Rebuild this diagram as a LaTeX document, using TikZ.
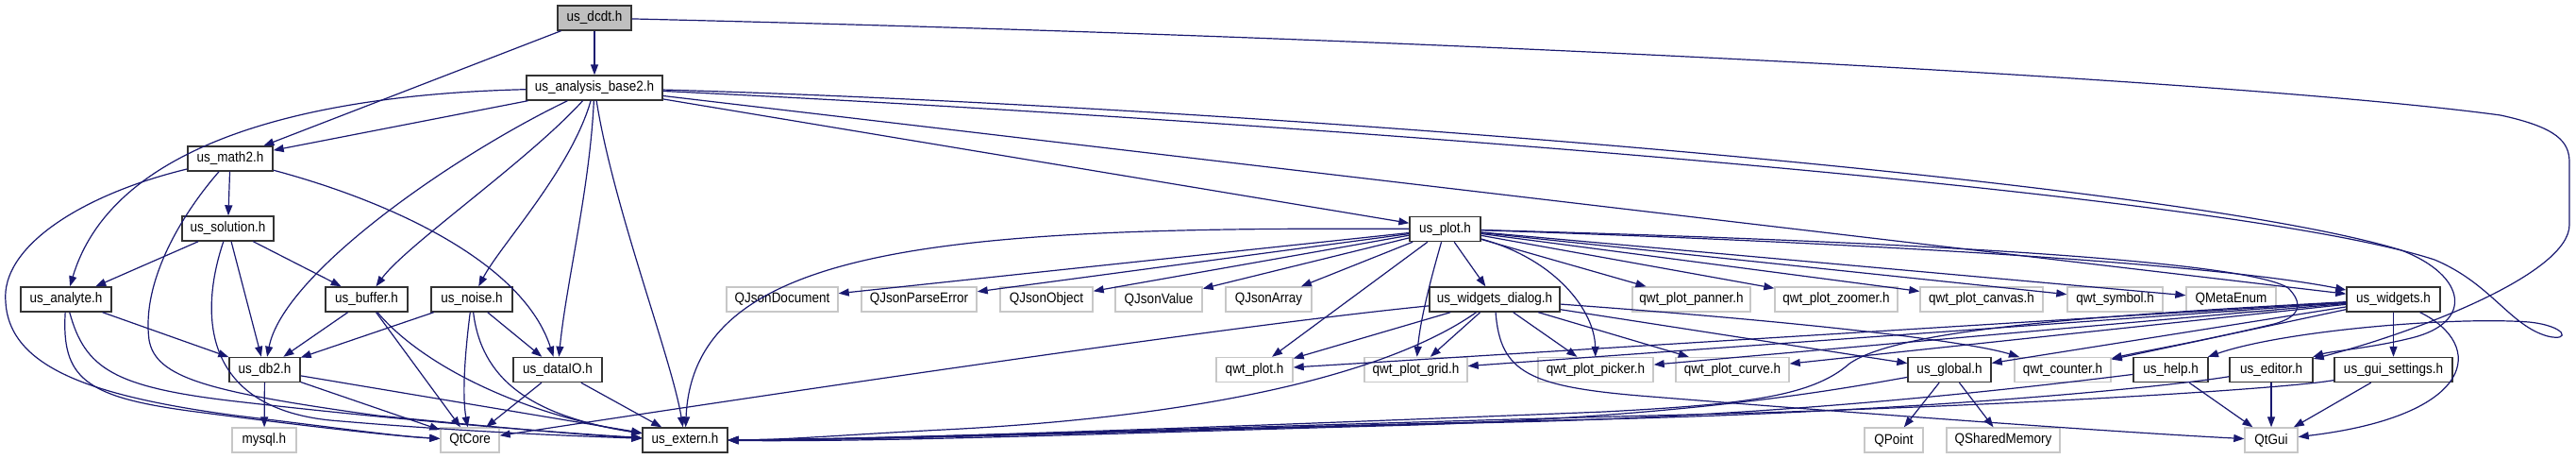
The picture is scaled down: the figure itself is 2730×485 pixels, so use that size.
\documentclass[tikz,border=0pt]{standalone}
\usepackage{fontspec}
\setmainfont{Liberation Sans}[FakeStretch=0.9]
\usepackage{tikz}
\usetikzlibrary{arrows.meta}
\definecolor{edgeblue}{HTML}{191970}
\tikzset{
    hdr/.style={draw=black!80, line width=1.4pt, fill=white, minimum height=26pt, inner sep=0pt, font=\fontsize{15}{16}\selectfont},
    sys/.style={hdr, draw=black!22},
    root/.style={hdr, fill=black!25},
    dep/.style={draw=edgeblue, line width=1.2pt, -{Triangle[length=11pt,width=8pt]}}
}

\begin{document}
\begin{tikzpicture}[x=1pt,y=-1pt]
    \useasboundingbox (0,0) rectangle (2730,485);
    % headers
    \node[root, minimum width=78pt] (dcdt) at (630,19) {us\_dcdt.h};
    \node[hdr, minimum width=144pt] (ab2) at (630,93) {us\_analysis\_base2.h};
    \node[hdr, minimum width=90pt] (math2) at (244,168) {us\_math2.h};
    \node[hdr, minimum width=97pt] (solution) at (241.5,242) {us\_solution.h};
    \node[hdr, minimum width=96pt] (analyte) at (70,317) {us\_analyte.h};
    \node[hdr, minimum width=87pt] (buffer) at (388.5,317) {us\_buffer.h};
    \node[hdr, minimum width=86pt] (noise) at (500,317) {us\_noise.h};
    \node[sys, minimum width=118pt] (qjdoc) at (829,317) {QJsonDocument};
    \node[hdr, minimum width=75pt] (db2) at (280.5,391.5) {us\_db2.h};
    \node[hdr, minimum width=94pt] (dataio) at (591,391.5) {us\_dataIO.h};
    \node[sys, minimum width=68pt] (mysql) at (280,466) {mysql.h};
    \node[sys, minimum width=62pt] (qtcore) at (498,466) {QtCore};
    \node[hdr, minimum width=90pt] (extern) at (726,466) {us\_extern.h};
    \node[hdr, minimum width=75pt] (plot) at (1531.5,242.5) {us\_plot.h};
    \node[sys, minimum width=122pt] (qjparse) at (974,317) {QJsonParseError};
    \node[sys, minimum width=98pt] (qjobj) at (1109,317) {QJsonObject};
    \node[sys, minimum width=92pt] (qjval) at (1228,317) {QJsonValue};
    \node[sys, minimum width=91pt] (qjarr) at (1344.5,317) {QJsonArray};
    \node[hdr, minimum width=138pt] (wdialog) at (1584,317) {us\_widgets\_dialog.h};
    \node[sys, minimum width=125pt] (panner) at (1792.5,317) {qwt\_plot\_panner.h};
    \node[sys, minimum width=130pt] (zoomer) at (1946,317) {qwt\_plot\_zoomer.h};
    \node[sys, minimum width=130pt] (canvas) at (2100,317) {qwt\_plot\_canvas.h};
    \node[sys, minimum width=101pt] (symbol) at (2241.5,317) {qwt\_symbol.h};
    \node[sys, minimum width=95pt] (metaenum) at (2364.5,317) {QMetaEnum};
    \node[hdr, minimum width=99pt] (widgets) at (2536.5,317) {us\_widgets.h};
    \node[sys, minimum width=81pt] (qwtplot) at (1329.5,391.5) {qwt\_plot.h};
    \node[sys, minimum width=109pt] (grid) at (1500.5,391.5) {qwt\_plot\_grid.h};
    \node[sys, minimum width=122pt] (picker) at (1691,391.5) {qwt\_plot\_picker.h};
    \node[sys, minimum width=120pt] (curve) at (1836,391.5) {qwt\_plot\_curve.h};
    \node[hdr, minimum width=88pt] (global) at (2066,391.5) {us\_global.h};
    \node[sys, minimum width=102pt] (counter) at (2186,391.5) {qwt\_counter.h};
    \node[hdr, minimum width=79pt] (help) at (2300.5,391.5) {us\_help.h};
    \node[hdr, minimum width=88pt] (editor) at (2407,391.5) {us\_editor.h};
    \node[hdr, minimum width=125pt] (guiset) at (2536.5,391.5) {us\_gui\_settings.h};
    \node[sys, minimum width=62pt] (qpoint) at (2007,466) {QPoint};
    \node[sys, minimum width=120pt] (qshm) at (2123,466) {QSharedMemory};
    \node[sys, minimum width=56pt] (qtgui) at (2407,466) {QtGui};

    % us_dcdt.h
    \draw[dep] (dcdt) -- (ab2);
    \draw[dep] (dcdt) -- (math2);
    \draw[dep] (dcdt) .. controls (1600,42) and (2400,88) .. (2650,122) .. controls (2710,135) and (2723,150) .. (2723,172) -- (2723,238) .. controls (2723,290) and (2560,352) .. (editor);

    % us_analysis_base2.h
    \draw[dep] (ab2) -- (math2);
    \draw[dep] (ab2) .. controls (330,100) and (120,150) .. (analyte);
    \draw[dep] (ab2) .. controls (480,165) and (300,290) .. (db2);
    \draw[dep] (ab2) .. controls (560,170) and (430,260) .. (buffer);
    \draw[dep] (ab2) .. controls (605,180) and (530,260) .. (noise);
    \draw[dep] (ab2) .. controls (625,200) and (600,300) .. (dataio);
    \draw[dep] (ab2) .. controls (650,220) and (712,380) .. (extern);
    \draw[dep] (ab2) -- (plot);
    \draw[dep] (ab2) -- (widgets);
    \draw[dep] (ab2) .. controls (1300,112) and (2300,190) .. (2545,265) .. controls (2615,292) and (2622,342) .. (2555,358) .. controls (2515,368) and (2470,372) .. (editor);
    \draw[dep] (ab2) .. controls (1300,125) and (2350,200) .. (2580,275) .. controls (2640,300) and (2660,345) .. (2700,356) .. controls (2725,362) and (2720,345) .. (2680,341) .. controls (2600,335) and (2420,350) .. (help);

    % us_math2.h
    \draw[dep] (math2) -- (solution);
    \draw[dep] (math2) .. controls (90,205) and (0,260) .. (6,320) .. controls (10,390) and (100,420) .. (250,440) .. controls (350,452) and (420,462) .. (qtcore);
    \draw[dep] (math2) .. controls (190,230) and (150,300) .. (158,360) .. controls (165,400) and (220,415) .. (400,440) .. controls (550,455) and (640,462) .. (extern);
    \draw[dep] (math2) .. controls (420,215) and (555,280) .. (dataio);

    % us_solution.h
    \draw[dep] (solution) -- (analyte);
    \draw[dep] (solution) -- (buffer);
    \draw[dep] (solution) -- (db2);
    \draw[dep] (solution) .. controls (215,320) and (205,430) .. (350,445) .. controls (500,458) and (620,462) .. (extern);

    % us_analyte.h, us_buffer.h, us_noise.h
    \draw[dep] (analyte) -- (db2);
    \draw[dep] (analyte) .. controls (65,400) and (90,420) .. (200,435) .. controls (330,452) and (420,462) .. (qtcore);
    \draw[dep] (analyte) .. controls (90,390) and (120,410) .. (250,425) .. controls (450,448) and (620,460) .. (extern);
    \draw[dep] (buffer) -- (db2);
    \draw[dep] (buffer) -- (qtcore);
    \draw[dep] (buffer) .. controls (450,390) and (560,440) .. (extern);
    \draw[dep] (noise) -- (db2);
    \draw[dep] (noise) -- (dataio);
    \draw[dep] (noise) .. controls (492,380) and (490,420) .. (qtcore);
    \draw[dep] (noise) .. controls (510,400) and (560,440) .. (extern);

    % us_db2.h, us_dataIO.h
    \draw[dep] (db2) -- (mysql);
    \draw[dep] (db2) -- (qtcore);
    \draw[dep] (db2) -- (extern);
    \draw[dep] (dataio) -- (qtcore);
    \draw[dep] (dataio) -- (extern);

    % us_plot.h
    \draw[dep] (plot) -- (qjdoc);
    \draw[dep] (plot) -- (qjparse);
    \draw[dep] (plot) -- (qjobj);
    \draw[dep] (plot) -- (qjval);
    \draw[dep] (plot) -- (qjarr);
    \draw[dep] (plot) .. controls (1000,240) and (735,260) .. (extern);
    \draw[dep] (plot) -- (qwtplot);
    \draw[dep] (plot) .. controls (1515,300) and (1505,340) .. (grid);
    \draw[dep] (plot) -- (wdialog);
    \draw[dep] (plot) .. controls (1650,275) and (1690,330) .. (picker);
    \draw[dep] (plot) -- (panner);
    \draw[dep] (plot) -- (zoomer);
    \draw[dep] (plot) -- (canvas);
    \draw[dep] (plot) -- (symbol);
    \draw[dep] (plot) -- (metaenum);
    \draw[dep] (plot) .. controls (2000,258) and (2350,280) .. (widgets);
    \draw[dep] (plot) .. controls (2000,255) and (2380,275) .. (2425,305) .. controls (2440,320) and (2440,335) .. (2410,343) .. controls (2330,362) and (2270,372) .. (counter);

    % us_widgets_dialog.h
    \draw[dep] (wdialog) .. controls (1300,345) and (800,420) .. (qtcore);
    \draw[dep] (wdialog) .. controls (1480,390) and (1300,440) .. (1000,455) .. controls (900,460) and (830,466) .. (extern);
    \draw[dep] (wdialog) -- (qwtplot);
    \draw[dep] (wdialog) -- (grid);
    \draw[dep] (wdialog) -- (picker);
    \draw[dep] (wdialog) -- (curve);
    \draw[dep] (wdialog) -- (global);
    \draw[dep] (wdialog) .. controls (1900,340) and (2080,360) .. (counter);
    \draw[dep] (wdialog) .. controls (1590,395) and (1620,410) .. (1750,420) .. controls (2000,440) and (2250,458) .. (qtgui);

    % us_widgets.h
    \draw[dep] (widgets) -- (guiset);
    \draw[dep] (widgets) .. controls (2635,365) and (2625,440) .. (qtgui);
    \draw[dep] (widgets) -- (qwtplot);
    \draw[dep] (widgets) -- (grid);
    \draw[dep] (widgets) -- (picker);
    \draw[dep] (widgets) -- (curve);
    \draw[dep] (widgets) -- (global);
    \draw[dep] (widgets) -- (counter);
    \draw[dep] (widgets) .. controls (2200,335) and (2010,350) .. (1960,385) .. controls (1920,420) and (1850,428) .. (1700,436) .. controls (1300,452) and (950,465) .. (extern);

    % bottom row headers
    \draw[dep] (global) -- (qpoint);
    \draw[dep] (global) -- (qshm);
    \draw[dep] (global) .. controls (1950,412) and (1800,440) .. (1500,450) .. controls (1200,458) and (950,468) .. (extern);
    \draw[dep] (help) -- (qtgui);
    \draw[dep] (help) .. controls (2150,410) and (1900,440) .. (1600,447) .. controls (1250,455) and (950,466) .. (extern);
    \draw[dep] (editor) -- (qtgui);
    \draw[dep] (editor) .. controls (2280,412) and (2000,438) .. (1650,445) .. controls (1250,454) and (950,466) .. (extern);
    \draw[dep] (guiset) -- (qtgui);
    \draw[dep] (guiset) .. controls (2420,412) and (2100,432) .. (1750,440) .. controls (1300,452) and (950,465) .. (extern);
\end{tikzpicture}
\end{document}
